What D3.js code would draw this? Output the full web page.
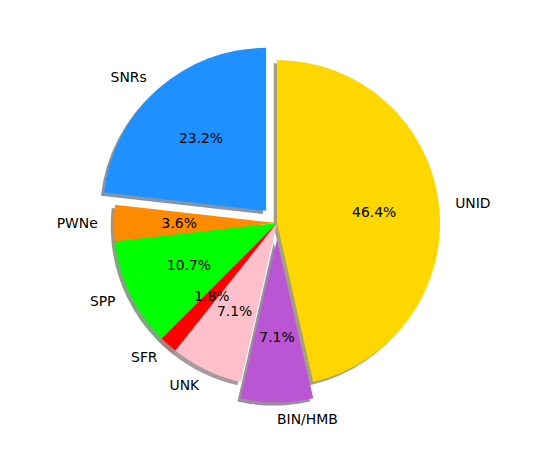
<!DOCTYPE html>
<html>
<head>
<meta charset="utf-8">
<script src="https://cdn.jsdelivr.net/npm/d3@7"></script>
<style>
html,body{margin:0;padding:0;background:#fff;}
svg{display:block;}
text{font-family:"DejaVu Sans",sans-serif;font-size:13.9px;fill:#000;}
</style>
</head>
<body>
<svg id="chart" width="534" height="462"></svg>
<script>
const categories = ["UNID","BIN/HMB","UNK","SFR","SPP","PWNe","SNRs"];
const counts = [26,4,4,1,6,2,13];
const explode = [0,0.1,0,0,0,0,0.1];
const colors = ["#FFD700","#BA55D3","#FFC0CB","#FF0000","#00FF00","#FF8C00","#1E90FF"];

const W = 534, H = 462;
const cx = 277, cy = 223;
const R = d3.scaleLinear().domain([0,1]).range([0,163]);
const total = d3.sum(counts);
const fmt = d3.format(".1f");

const data = categories.map((c,i)=>({label:c, value:counts[i], explode:explode[i], color:colors[i]}));
const pie = d3.pie().value(d=>d.value).sort(null).startAngle(0).endAngle(2*Math.PI);
const arcs = pie(data);
const arc = d3.arc().innerRadius(0).outerRadius(R(1));

const svg = d3.select("#chart");
const g = svg.append("g").attr("transform",`translate(${cx},${cy})`);

function dir(a){ return [Math.sin(a), -Math.cos(a)]; }
function mid(d){ return (d.startAngle+d.endAngle)/2; }

// shadows
g.selectAll("path.shadow").data(arcs).enter().append("path")
  .attr("class","shadow")
  .attr("d",arc)
  .attr("transform",d=>{const [ux,uy]=dir(mid(d)); const e=d.data.explode; return `translate(${R(e)*ux - R(0.02)},${R(e)*uy + R(0.02)})`;})
  .attr("fill",d=>{const c=d3.rgb(d.data.color); return d3.rgb(c.r*0.3,c.g*0.3,c.b*0.3).toString();})
  .attr("fill-opacity",0.5);

// wedges
g.selectAll("path.wedge").data(arcs).enter().append("path")
  .attr("class","wedge")
  .attr("d",arc)
  .attr("transform",d=>{const [ux,uy]=dir(mid(d)); const e=d.data.explode; return `translate(${R(e)*ux},${R(e)*uy})`;})
  .attr("fill",d=>d.data.color);

// category labels
g.selectAll("text.lbl").data(arcs).enter().append("text")
  .attr("class","lbl")
  .attr("x",d=>{const [ux]=dir(mid(d)); return R(d.data.explode+1.1)*ux;})
  .attr("y",d=>{const [,uy]=dir(mid(d)); return R(d.data.explode+1.1)*uy;})
  .attr("dy","0.36em")
  .attr("text-anchor",d=>{const [ux]=dir(mid(d)); return ux>=-1e-9?"start":"end";})
  .text(d=>d.data.label);

// percent labels
g.selectAll("text.pct").data(arcs).enter().append("text")
  .attr("class","pct")
  .attr("x",d=>{const [ux]=dir(mid(d)); return R(d.data.explode+0.6)*ux;})
  .attr("y",d=>{const [,uy]=dir(mid(d)); return R(d.data.explode+0.6)*uy;})
  .attr("dy","0.36em")
  .attr("text-anchor","middle")
  .text(d=>fmt(d.value/total*100)+"%");
</script>
</body>
</html>
